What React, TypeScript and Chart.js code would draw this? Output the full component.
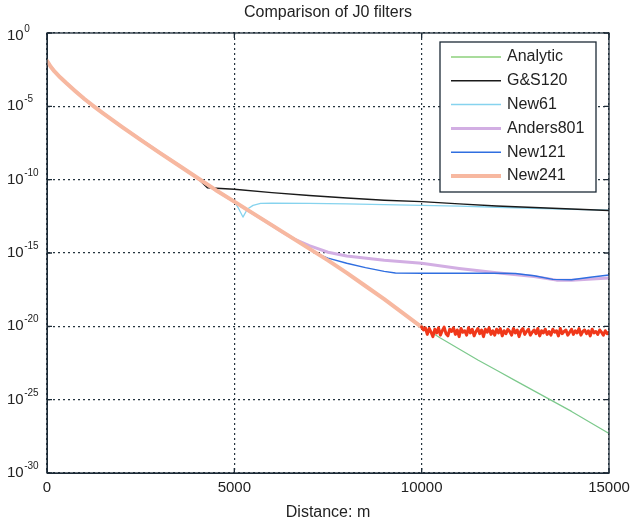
import React, { useEffect, useRef } from "react";
import { Chart, registerables } from "chart.js";

Chart.register(...registerables);

// ---------- data ----------
const xTickValues = [0, 5000, 10000, 15000];
const yTickExponents = [0, -5, -10, -15, -20, -25, -30];

// Analytic curve (log10 of value)
const analyticX = [0, 100, 200, 350, 500, 750, 1000, 1250, 1500, 2000, 2500, 3000, 3500, 4000, 4500, 5000, 5500, 6000, 6500, 7000, 7500, 8000, 8500, 9000, 9500, 10000, 10500, 11000, 11500, 12000, 12500, 13000, 13500, 14000, 14500, 15000];
const analyticLog = [-1.9, -2.3, -2.62, -3.02, -3.38, -3.95, -4.5, -5.0, -5.48, -6.4, -7.28, -8.15, -9.0, -9.85, -10.7, -11.5, -12.3, -13.1, -13.9, -14.7, -15.5, -16.35, -17.25, -18.15, -19.1, -20.0, -20.8, -21.55, -22.3, -23.0, -23.7, -24.4, -25.1, -25.8, -26.55, -27.3];

// G&S120 (after leaving analytic curve)
const gsX = [4280, 5000, 6000, 7000, 8000, 9000, 10000, 11000, 12000, 13000, 14000, 15000];
const gsLog = [-10.55, -10.65, -10.88, -11.08, -11.25, -11.4, -11.5, -11.65, -11.8, -11.9, -12.0, -12.1];

// New61
const new61X = [5000, 5100, 5230, 5350, 5500, 5700, 6000, 7000, 8000, 9000, 10000, 11000, 12000, 13000, 14000, 15000];
const new61Log = [-11.5, -11.9, -12.55, -12.0, -11.75, -11.62, -11.6, -11.62, -11.65, -11.7, -11.75, -11.8, -11.88, -11.95, -12.02, -12.08];

// Anders801
const andersX = [6300, 6600, 7000, 7500, 8000, 9000, 10000, 11000, 12000, 13000, 13600, 14000, 15000];
const andersLog = [-13.6, -14.05, -14.5, -14.95, -15.2, -15.5, -15.7, -16.05, -16.35, -16.6, -16.85, -16.85, -16.7];

// New121
const new121X = [7200, 7500, 8000, 8500, 9000, 9300, 10000, 11000, 12000, 12500, 13000, 13500, 14000, 14500, 15000];
const new121Log = [-15.05, -15.35, -15.7, -16.0, -16.25, -16.36, -16.38, -16.38, -16.38, -16.4, -16.55, -16.8, -16.82, -16.65, -16.5];

// New241 noisy tail (10000 .. 15000, every 50 m)
const new241TailStart = 10000;
const new241TailStep = 50;
const new241TailLog = [
  -20.05, -20.25, -20.1, -20.55, -20.15, -20.4, -20.7, -20.2, -20.45, -20.1,
  -20.6, -20.3, -20.05, -20.5, -20.65, -20.2, -20.35, -20.1, -20.55, -20.25,
  -20.7, -20.15, -20.4, -20.3, -20.6, -20.1, -20.45, -20.2, -20.65, -20.35,
  -20.15, -20.5, -20.25, -20.7, -20.2, -20.4, -20.1, -20.55, -20.3, -20.6,
  -20.2, -20.45, -20.15, -20.65, -20.3, -20.5, -20.2, -20.35, -20.6, -20.15,
  -20.45, -20.25, -20.7, -20.3, -20.15, -20.55, -20.35, -20.2, -20.6, -20.4,
  -20.25, -20.5, -20.15, -20.65, -20.3, -20.45, -20.2, -20.55, -20.35, -20.6,
  -20.2, -20.4, -20.3, -20.65, -20.15, -20.5, -20.35, -20.25, -20.6, -20.4,
  -20.2, -20.55, -20.3, -20.45, -20.15, -20.6, -20.35, -20.25, -20.5, -20.3,
  -20.65, -20.2, -20.45, -20.35, -20.55, -20.25, -20.4, -20.6, -20.3, -20.5, -20.4,
];

const legendLabels = ["Analytic", "G&S120", "New61", "Anders801", "New121", "New241"];

// ---------- helpers ----------
const toPts = (xs: number[], logs: number[]) => xs.map((x, i) => ({ x, y: Math.pow(10, logs[i]) }));
const analyticUntil = (xMax: number) => {
  const xs: number[] = [];
  const ls: number[] = [];
  analyticX.forEach((x, i) => {
    if (x < xMax) {
      xs.push(x);
      ls.push(analyticLog[i]);
    }
  });
  return { xs, ls };
};

const FONT = '"Liberation Sans", Arial, Helvetica, sans-serif';
const AXIS_COLOR = "#1c2a36";
const GRID_COLOR = "#25343f";

const COLORS = {
  analytic: "#7cc98c",
  gs: "#1a1a1a",
  new61: "#86d3ee",
  anders: "#d2aee3",
  new121: "#2f6ee0",
  new241: "#f7b8a0",
  new241Noise: "#f0381a",
};

const legendStyles = [
  { color: "#a9dc9c", width: 2 },
  { color: COLORS.gs, width: 1.5 },
  { color: COLORS.new61, width: 1.5 },
  { color: COLORS.anders, width: 3 },
  { color: COLORS.new121, width: 1.5 },
  { color: COLORS.new241, width: 4 },
];

const decorPlugin = {
  id: "decor",
  beforeDraw(chart: any) {
    const ctx = chart.ctx;
    ctx.save();
    ctx.fillStyle = "#ffffff";
    ctx.fillRect(0, 0, chart.width, chart.height);
    ctx.restore();
  },
  afterDraw(chart: any) {
    const ctx = chart.ctx;
    const { left, right, top, bottom } = chart.chartArea;
    const xs = chart.scales.x;
    const ys = chart.scales.y;
    ctx.save();
    // frame
    ctx.strokeStyle = AXIS_COLOR;
    ctx.lineWidth = 1.3;
    ctx.setLineDash([]);
    ctx.strokeRect(left, top, right - left, bottom - top);
    // inward ticks
    ctx.beginPath();
    xTickValues.forEach((v) => {
      const px = xs.getPixelForValue(v);
      ctx.moveTo(px, bottom);
      ctx.lineTo(px, bottom - 5);
      ctx.moveTo(px, top);
      ctx.lineTo(px, top + 5);
    });
    yTickExponents.forEach((e) => {
      const py = ys.getPixelForValue(Math.pow(10, e));
      ctx.moveTo(left, py);
      ctx.lineTo(left + 5, py);
      ctx.moveTo(right, py);
      ctx.lineTo(right - 5, py);
    });
    ctx.stroke();

    // y tick labels 10^e
    ctx.fillStyle = "#222222";
    yTickExponents.forEach((e) => {
      const py = ys.getPixelForValue(Math.pow(10, e)) + (e === 0 ? 3 : 0);
      ctx.font = `15px ${FONT}`;
      ctx.textAlign = "left";
      ctx.textBaseline = "middle";
      ctx.fillText("10", 7, py);
      const w = ctx.measureText("10").width;
      ctx.font = `10px ${FONT}`;
      ctx.textBaseline = "alphabetic";
      ctx.fillText(String(e), 7 + w + 0.5, py - 4);
    });

    // title
    ctx.font = `16px ${FONT}`;
    ctx.textAlign = "center";
    ctx.textBaseline = "middle";
    ctx.fillStyle = "#222222";
    ctx.fillText("Comparison of J0 filters", (left + right) / 2, 13);

    // legend
    const bx = 440, by = 42, bw = 156, bh = 150;
    ctx.fillStyle = "#ffffff";
    ctx.fillRect(bx, by, bw, bh);
    ctx.strokeStyle = AXIS_COLOR;
    ctx.lineWidth = 1.3;
    ctx.strokeRect(bx, by, bw, bh);
    legendLabels.forEach((lab, i) => {
      const cy = 57 + i * 23.8;
      ctx.strokeStyle = legendStyles[i].color;
      ctx.lineWidth = legendStyles[i].width;
      ctx.beginPath();
      ctx.moveTo(451, cy);
      ctx.lineTo(501, cy);
      ctx.stroke();
      ctx.fillStyle = "#222222";
      ctx.font = `16px ${FONT}`;
      ctx.textAlign = "left";
      ctx.textBaseline = "middle";
      ctx.fillText(lab, 507, cy);
    });
    ctx.restore();
  },
};

export default function App() {
  const canvasRef = useRef<HTMLCanvasElement | null>(null);

  useEffect(() => {
    if (!canvasRef.current) return;

    const gsHead = analyticUntil(gsX[0]);
    const n61Head = analyticUntil(new61X[0]);
    const andHead = analyticUntil(andersX[0]);
    const n121Head = analyticUntil(new121X[0]);
    const n241Head = analyticUntil(new241TailStart);
    const tailX = new241TailLog.map((_, i) => new241TailStart + i * new241TailStep);

    const chart = new Chart(canvasRef.current, {
      type: "line",
      data: {
        datasets: [
          {
            label: "Analytic",
            data: toPts(analyticX, analyticLog),
            borderColor: COLORS.analytic,
            borderWidth: 1.2,
            order: 6,
          },
          {
            label: "G&S120",
            data: toPts([...gsHead.xs, ...gsX], [...gsHead.ls, ...gsLog]),
            borderColor: COLORS.gs,
            borderWidth: 1.4,
            order: 4,
          },
          {
            label: "New61",
            data: toPts([...n61Head.xs, ...new61X], [...n61Head.ls, ...new61Log]),
            borderColor: COLORS.new61,
            borderWidth: 1.3,
            order: 5,
          },
          {
            label: "Anders801",
            data: toPts([...andHead.xs, ...andersX], [...andHead.ls, ...andersLog]),
            borderColor: COLORS.anders,
            borderWidth: 3,
            order: 3,
          },
          {
            label: "New121",
            data: toPts([...n121Head.xs, ...new121X], [...n121Head.ls, ...new121Log]),
            borderColor: COLORS.new121,
            borderWidth: 1.4,
            order: 2,
          },
          {
            label: "New241",
            data: toPts([...n241Head.xs, ...tailX], [...n241Head.ls, ...new241TailLog]),
            borderColor: COLORS.new241,
            borderWidth: 4,
            order: 1,
            segment: {
              borderColor: (c: any) => (c.p0.parsed.x >= new241TailStart ? COLORS.new241Noise : COLORS.new241),
              borderWidth: (c: any) => (c.p0.parsed.x >= new241TailStart ? 3 : 4),
            },
          },
        ],
      },
      options: {
        responsive: false,
        animation: false,
        events: [],
        layout: { padding: { top: 33, right: 21, left: 0, bottom: 0 } },
        elements: {
          point: { radius: 0 },
          line: { tension: 0, borderJoinStyle: "round", borderCapStyle: "round" },
        },
        plugins: {
          legend: { display: false },
          title: { display: false },
          tooltip: { enabled: false },
        },
        scales: {
          x: {
            type: "linear",
            min: 0,
            max: 15000,
            afterBuildTicks: (s: any) => {
              s.ticks = xTickValues.map((v) => ({ value: v }));
            },
            afterFit: (s: any) => {
              s.height = 49;
              s.paddingLeft = 0;
              s.paddingRight = 0;
            },
            ticks: {
              font: { family: FONT, size: 15 },
              color: "#222222",
              padding: 6,
              maxRotation: 0,
              autoSkip: false,
              callback: (v: any) => String(v),
            },
            grid: {
              color: GRID_COLOR,
              lineWidth: 1.2,
              drawTicks: false,
            },
            border: { display: true, color: AXIS_COLOR, dash: [2, 3] },
            title: {
              display: true,
              text: "Distance: m",
              font: { family: FONT, size: 16 },
              color: "#222222",
              padding: { top: 0, bottom: 0 },
            },
          },
          y: {
            type: "logarithmic",
            min: 1e-30,
            max: 1,
            afterBuildTicks: (s: any) => {
              s.ticks = yTickExponents.map((e) => ({ value: Math.pow(10, e) }));
            },
            afterFit: (s: any) => {
              s.width = 47;
              s.paddingTop = 0;
              s.paddingBottom = 0;
            },
            ticks: { display: false },
            grid: {
              color: GRID_COLOR,
              lineWidth: 1.2,
              drawTicks: false,
            },
            border: { display: true, color: AXIS_COLOR, dash: [2, 3] },
          },
        },
      },
      plugins: [decorPlugin],
    } as any);

    return () => chart.destroy();
  }, []);

  return (
    <div style={{ position: "absolute", left: 0, top: 0, width: 630, height: 522, background: "#fff" }}>
      <canvas ref={canvasRef} width={630} height={522} style={{ width: 630, height: 522, display: "block" }} />
    </div>
  );
}
